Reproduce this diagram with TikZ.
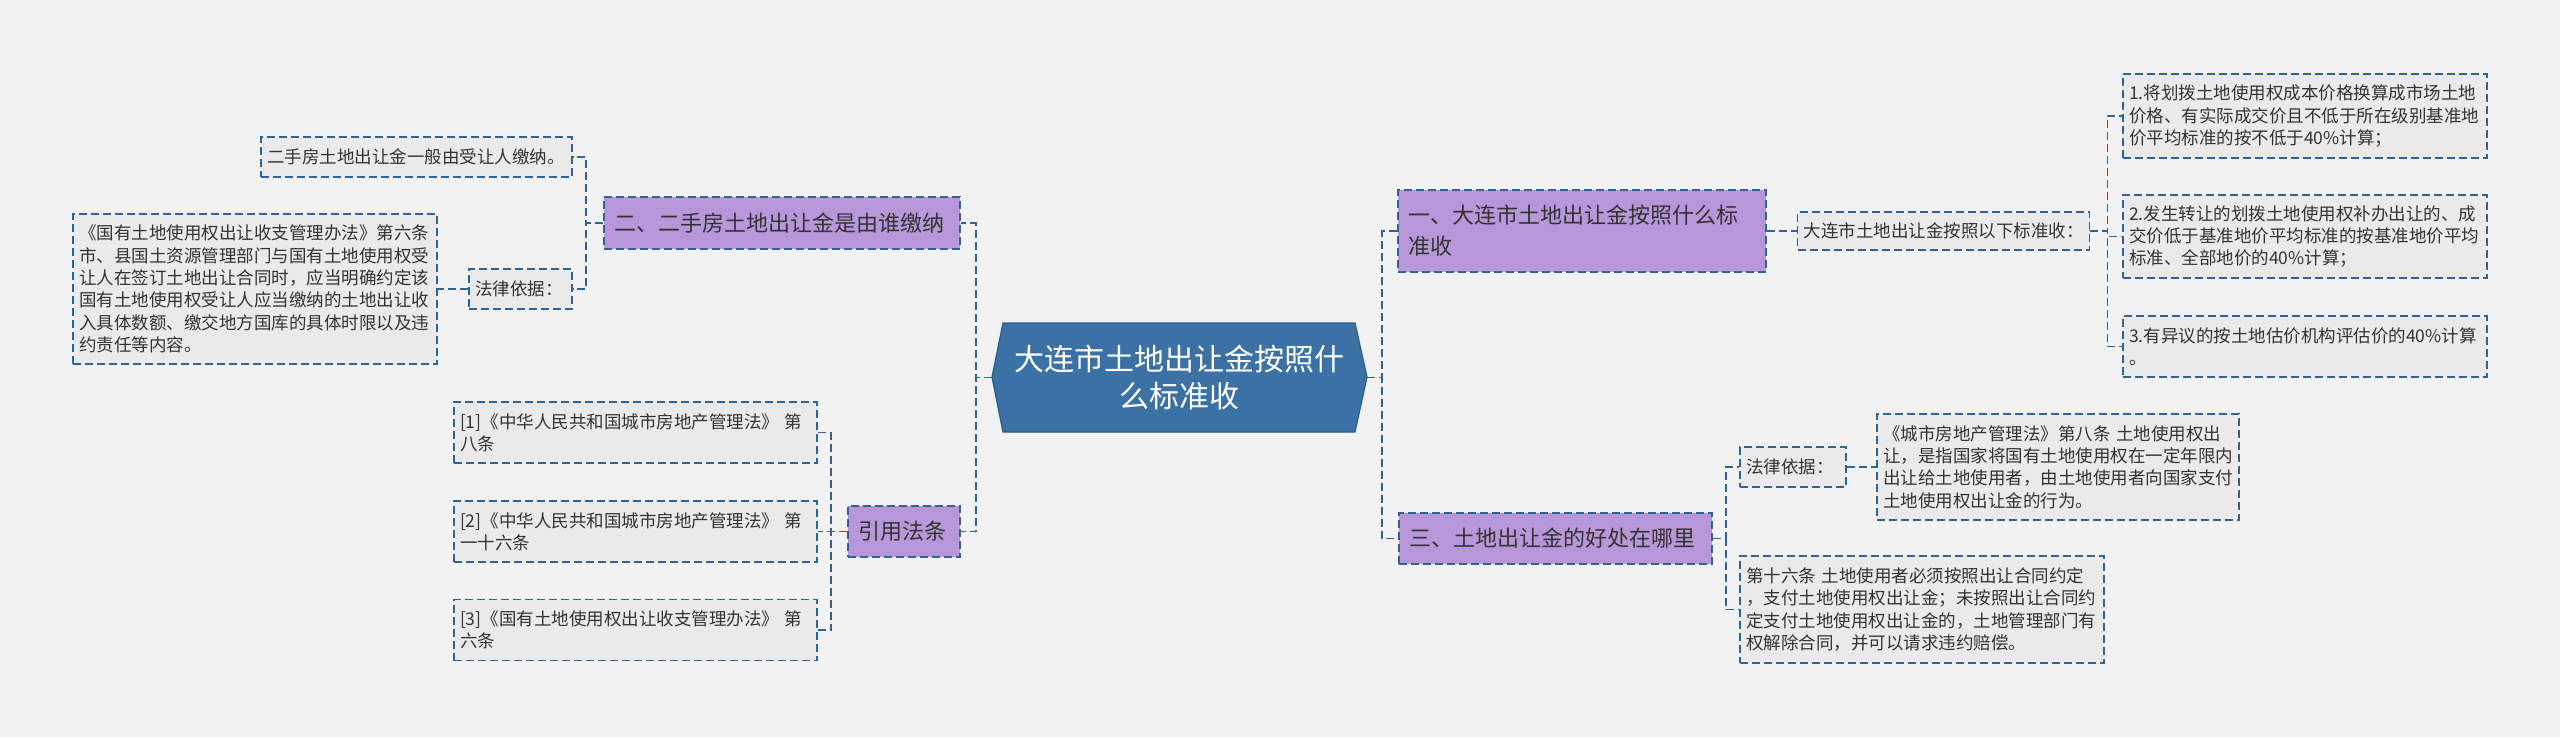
\documentclass[tikz,border=0pt]{standalone}
\usepackage{fontspec}
\setmainfont{Noto Sans CJK SC}
\usepackage[usenames,dvipsnames]{xcolor}
\usepackage{tikz}
\usetikzlibrary{positioning}

\definecolor{PageGray}{HTML}{F2F2F2}
\definecolor{LeafGray}{HTML}{EAEAEA}
\definecolor{TopicPurple}{HTML}{B797D9}
\definecolor{LineBlue}{HTML}{2F6393}
\definecolor{RootBlue}{HTML}{3C71A5}
\definecolor{RootEdge}{HTML}{2B5C8C}
\definecolor{TextGray}{HTML}{333333}

\tikzset{
  dashbox/.style={draw=LineBlue, line width=1.6pt, dash pattern=on 8pt off 4pt, text=TextGray, align=left, inner xsep=6pt, inner ysep=3pt},
  leafbox/.style={dashbox, fill=LeafGray, font=\fontsize{17.5}{22.3}\selectfont},
  topicbox/.style={dashbox, fill=TopicPurple, font=\fontsize{22}{31}\selectfont, inner xsep=10pt},
  branchline/.style={draw=LineBlue, line width=1.6pt, dash pattern=on 8pt off 4pt}
}

\begin{document}
\begin{tikzpicture}[x=1pt, y=-1pt]
\fill[PageGray] (0,0) rectangle (2560,737);

% Root
\filldraw[fill=RootBlue, draw=RootEdge, line width=1.2pt] (992,377) -- (1003,323) -- (1355,323) -- (1367,377) -- (1355,432) -- (1003,432) -- cycle;
\node[text=white, align=center, font=\fontsize{30}{37}\selectfont, minimum width=375pt, minimum height=109pt, inner sep=0pt] (root) at (1179.5,377.5) {大连市土地出让金按照什\\么标准收};

% Left branches
\node[topicbox, text width=336pt, minimum height=52pt] (two) at (782,223) {二、二手房土地出让金是由谁缴纳};
\node[leafbox, text width=299pt, minimum height=40pt] (twoa) at (416.5,157) {二手房土地出让金一般由受让人缴纳。};
\node[leafbox, text width=91pt, minimum height=40pt] (twolaw) at (520.5,289) {法律依据：};
\node[leafbox, text width=352pt, minimum height=150pt] (twotext) at (255,289) {《国有土地使用权出让收支管理办法》第六条\\市、县国土资源管理部门与国有土地使用权受\\让人在签订土地出让合同时，应当明确约定该\\国有土地使用权受让人应当缴纳的土地出让收\\入具体数额、缴交地方国库的具体时限以及违\\约责任等内容。};

\node[topicbox, text width=92pt, minimum height=51pt] (cite) at (904,531.5) {引用法条};
\node[leafbox, text width=351pt, minimum height=61pt] (citea) at (635.5,432.5) {[1]《中华人民共和国城市房地产管理法》~第\\八条};
\node[leafbox, text width=351pt, minimum height=61pt] (citeb) at (635.5,531.5) {[2]《中华人民共和国城市房地产管理法》~第\\一十六条};
\node[leafbox, text width=351pt, minimum height=61pt] (citec) at (635.5,630) {[3]《国有土地使用权出让收支管理办法》~第\\六条};

% Right branches
\node[topicbox, text width=348pt, minimum height=82pt] (one) at (1582,231) {一、大连市土地出让金按照什么标\\准收};
\node[leafbox, text width=280pt, minimum height=38pt] (onea) at (1943.5,231) {大连市土地出让金按照以下标准收：};
\node[leafbox, text width=352pt, minimum height=84pt] (rulea) at (2305,116) {1.将划拨土地使用权成本价格换算成市场土地\\价格、有实际成交价且不低于所在级别基准地\\价平均标准的按不低于40\%计算；};
\node[leafbox, text width=352pt, minimum height=83pt] (ruleb) at (2305,236.5) {2.发生转让的划拨土地使用权补办出让的、成\\交价低于基准地价平均标准的按基准地价平均\\标准、全部地价的40\%计算；};
\node[leafbox, text width=352pt, minimum height=61pt] (rulec) at (2305,346.5) {3.有异议的按土地估价机构评估价的40\%计算\\。};

\node[topicbox, text width=293pt, minimum height=51pt] (three) at (1555.5,538.5) {三、土地出让金的好处在哪里};
\node[leafbox, text width=94pt, minimum height=40pt] (threelaw) at (1793,467) {法律依据：};
\node[leafbox, text width=350pt, minimum height=106pt] (threetext) at (2058,467) {《城市房地产管理法》第八条~土地使用权出\\让，是指国家将国有土地使用权在一定年限内\\出让给土地使用者，由土地使用者向国家支付\\土地使用权出让金的行为。};
\node[leafbox, text width=352pt, minimum height=107pt] (threeb) at (1922,609.5) {第十六条~土地使用者必须按照出让合同约定\\，支付土地使用权出让金；未按照出让合同约\\定支付土地使用权出让金的，土地管理部门有\\权解除合同，并可以请求违约赔偿。};

% Connectors
\draw[branchline] (root.west) -- ++(-16,0) |- (two.east);
\draw[branchline] (root.west) -- ++(-16,0) |- (cite.east);
\draw[branchline] (root.east) -- ++(15,0) |- (one.west);
\draw[branchline] (root.east) -- ++(15,0) |- (three.west);
\draw[branchline] (two.west) -- ++(-17,0) |- (twoa.east);
\draw[branchline] (two.west) -- ++(-17,0) |- (twolaw.east);
\draw[branchline] (twolaw.west) -- (twotext.east);
\draw[branchline] (cite.west) -- ++(-16,0) |- (citea.east);
\draw[branchline] (cite.west) -- ++(-16,0) |- (citeb.east);
\draw[branchline] (cite.west) -- ++(-16,0) |- (citec.east);
\draw[branchline] (one.east) -- (onea.west);
\draw[branchline] (onea.east) -- ++(17,0) |- (rulea.west);
\draw[branchline] (onea.east) -- ++(17,0) |- (ruleb.west);
\draw[branchline] (onea.east) -- ++(17,0) |- (rulec.west);
\draw[branchline] (three.east) -- ++(13,0) |- (threelaw.west);
\draw[branchline] (three.east) -- ++(13,0) |- (threeb.west);
\draw[branchline] (threelaw.east) -- (threetext.west);
\end{tikzpicture}
\end{document}
